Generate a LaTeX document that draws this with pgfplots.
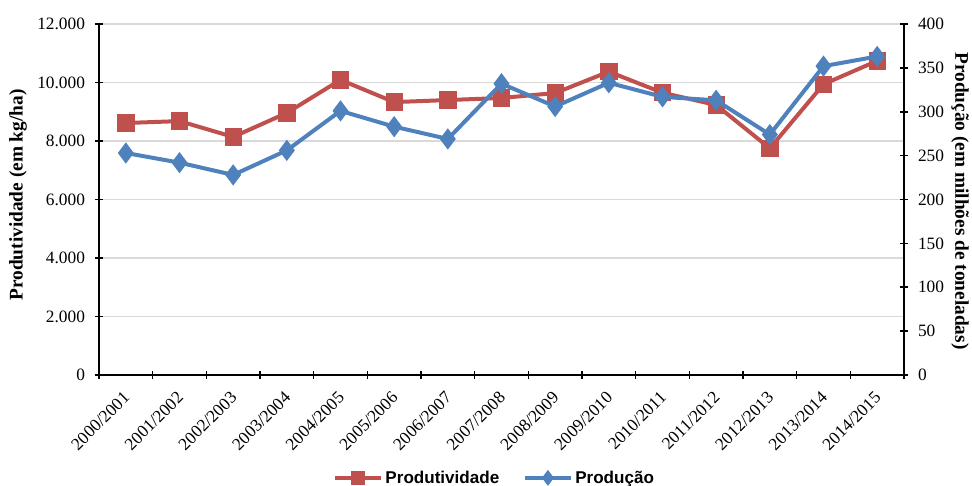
\documentclass[border=0pt]{standalone}
\usepackage{fontspec}
\setmainfont{Liberation Serif}
\newfontfamily\arialfont{Liberation Sans}
\usepackage{pgfplots}
\pgfplotsset{compat=1.18}
\definecolor{exred}{HTML}{C0504D}
\definecolor{exblue}{HTML}{4F81BD}
\definecolor{gridgray}{HTML}{D9D9D9}
\begin{document}
\begin{tikzpicture}[x=0.75pt,y=0.75pt]
\useasboundingbox (0,0) rectangle (972,486);
\pgfplotsset{
  commonax/.style={
    at={(74.25pt,83.25pt)}, anchor=south west,
    scale only axis, width=603.75pt, height=263.25pt,
    xmin=-0.5, xmax=14.5,
    /pgf/number format/assume math mode=true,
    tick label style={font=\fontsize{13}{15}\selectfont},
    tick align=center, major tick length=6pt,
    tick style={black, line width=1.2pt},
    axis line style={black, line width=1.2pt},
  }
}
\begin{axis}[commonax,
  axis x line=bottom, axis y line=left,
  axis line style={-},
  ymin=0, ymax=12000, ytick={0,2000,...,12000},
  scaled y ticks=false,
  yticklabel style={/pgf/number format/fixed, /pgf/number format/precision=0, /pgf/number format/1000 sep={.}, xshift=-4pt},
  ymajorgrids, grid style={gridgray, line width=0.8pt},
  xtick={-0.5,0.5,...,14.5},
  xticklabels={2000/2001,2001/2002,2002/2003,2003/2004,2004/2005,2005/2006,2006/2007,2007/2008,2008/2009,2009/2010,2010/2011,2011/2012,2012/2013,2013/2014,2014/2015,{}},
  xticklabel style={xshift=17.5pt, yshift=-7pt, rotate=45, anchor=north east, inner sep=1pt},
  clip=false,
]
\addplot[exred, line width=3pt, mark=square*, mark size=5pt, mark options={solid, fill=exred}] coordinates {
(0,8615) (1,8680) (2,8140) (3,8960) (4,10090) (5,9330) (6,9400) (7,9470) (8,9640) (9,10370) (10,9650) (11,9230) (12,7750) (13,9940) (14,10740)
};
\end{axis}
\begin{axis}[commonax,
  axis x line=none, axis y line=right,
  axis line style={-},
  ymin=0, ymax=400, ytick={0,50,...,400},
  yticklabel style={xshift=4pt},
  legend columns=2,
  legend style={at={(0.492,-0.293)}, anchor=center, draw=none, fill=none,
    font=\arialfont\bfseries\fontsize{12.8}{14}\selectfont,
    /tikz/every even column/.append style={column sep=16pt}},
  legend image code/.code={\draw[mark repeat=2,mark phase=2,#1] plot coordinates {(0pt,0pt)(17pt,0pt)(34pt,0pt)};},
  clip=false,
]
\addlegendimage{exred, line width=3pt, mark=square*, mark size=3.5pt, mark options={solid, fill=exred}}
\addlegendentry{Produtividade}
\addlegendimage{exblue, line width=3pt, mark=diamond*, mark size=3.5pt, mark options={solid, fill=exblue}}
\addlegendentry{Produção}
\addplot[exblue, line width=3pt, mark=diamond*, mark size=5.5pt, mark options={solid, fill=exblue}, forget plot] coordinates {
(0,253) (1,242) (2,228) (3,256) (4,301) (5,283) (6,269) (7,332) (8,306) (9,333) (10,317) (11,313) (12,274) (13,352) (14,363)
};
\end{axis}
\node[rotate=90, font=\bfseries\fontsize{14.5}{16}\selectfont] at (18,291) {Produtividade (em kg/ha)};
\node[rotate=-90, font=\bfseries\fontsize{14.5}{16}\selectfont] at (960,285) {Produção (em milhões de toneladas)};
\end{tikzpicture}
\end{document}
